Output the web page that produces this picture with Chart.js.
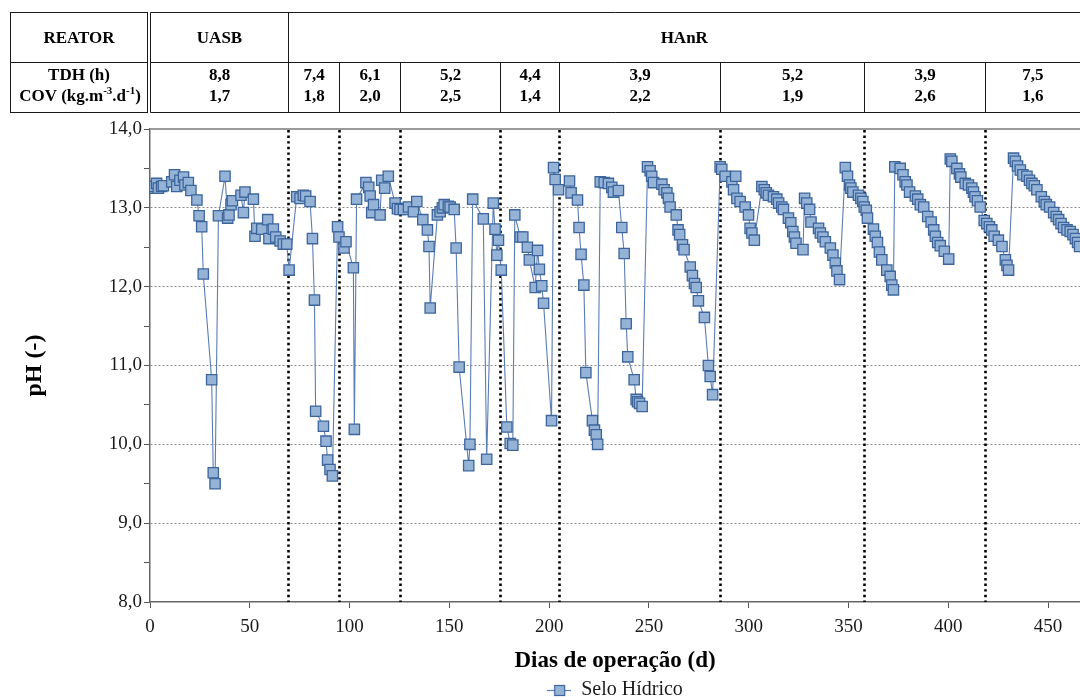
<!DOCTYPE html>
<html>
<head>
<meta charset="utf-8">
<script src="https://cdn.jsdelivr.net/npm/chart.js@4.4.1/dist/chart.umd.min.js"></script>
<style>
html,body{margin:0;padding:0;background:#fff;}
#wrap{width:1080px;height:700px;position:relative;}
</style>
</head>
<body>
<div id="wrap"><canvas id="c" width="1080" height="700"></canvas></div>
<script>
// ---------------- DATA ----------------
const seriesName = 'Selo Hídrico';
const days = [
  0,1.7,3.3,4.2,5.8,6.7,10.9,12.3,13.4,15.0,16.8,17.5,19.2,20.5,23.5,24.6,25.9,26.7,30.9,31.7,32.6,34.3,37.6,38.9,39.6,40.6,41.3,45.6,46.8,47.6,51.8,52.6,53.5,56.0,59.0,59.6,61.8,63.0,65.2,66.8,68.5,
  69.7,73.5,75.2,76.8,78.0,80.2,81.4,82.4,83.0,86.9,88.2,89.0,90.2,91.4,
  94.0,94.7,97.2,98.2,101.9,102.4,103.5,108.2,109.6,110.3,111.1,112.0,115.3,116.1,117.6,119.4,122.8,124.0,
  125.3,127.0,129.5,132.0,133.7,136.7,139.0,139.8,140.4,144.0,145.4,146.5,147.4,149.5,150.4,152.4,153.4,154.9,159.7,160.3,161.7,167.0,168.7,172.0,172.9,173.8,174.6,
  176.0,178.8,180.5,181.8,182.8,185.5,186.8,189.1,190.1,193.0,194.2,195.1,196.3,197.2,201.2,202.2,203.0,204.7,
  210.2,211.0,214.2,215.0,216.0,217.4,218.4,221.7,222.7,223.6,224.3,225.6,227.6,229.7,231.4,232.2,234.7,236.4,237.6,238.6,239.4,242.6,243.6,244.3,245.3,246.6,249.3,250.6,251.4,252.3,256.5,257.6,259.0,259.8,260.6,263.7,264.6,265.4,266.8,267.6,270.7,271.8,272.8,273.7,274.8,277.8,279.8,280.7,281.9,
  285.7,286.5,288.2,291.6,292.4,293.5,294.1,295.7,298.2,299.9,300.7,301.6,302.8,306.6,307.8,308.8,309.9,312.4,314.1,315.0,316.6,317.4,319.9,321.1,322.1,322.9,323.7,327.2,328.0,329.1,330.5,331.2,335.0,335.9,337.2,338.4,340.9,342.2,343.4,344.2,345.5,348.4,349.5,350.5,351.2,352.2,355.0,356.2,357.2,
  357.9,358.9,359.5,362.5,363.4,364.5,365.5,366.7,369.2,370.9,371.7,372.5,373.2,375.9,377.3,378.4,379.3,380.6,383.5,384.7,386.0,387.7,389.7,391.4,392.7,393.5,394.7,396.0,398.0,400.2,401.0,401.8,404.3,405.6,406.3,408.5,410.1,411.8,412.6,413.4,414.6,416.0,
  418.0,419.3,420.6,421.8,423.0,425.1,426.9,428.6,429.4,430.2,432.7,433.6,434.7,436.1,437.4,439.4,440.7,441.9,443.1,444.4,446.6,448.1,449.1,450.8,452.8,454.1,455.3,456.5,457.8,459.5,461.1,462.5,463.7,464.8,465.8
];
const ph = [
  13.25,13.27,13.31,13.25,13.27,13.28,13.33,13.42,13.27,13.35,13.39,13.29,13.32,13.22,13.10,12.90,12.76,12.16,10.82,9.64,9.50,12.90,13.40,12.87,12.91,13.04,13.09,13.16,12.94,13.20,13.11,12.64,12.74,12.73,12.85,12.61,12.73,12.63,12.58,12.54,12.54,
  12.21,13.14,13.12,13.16,13.15,13.08,12.61,11.83,10.42,10.23,10.04,9.80,9.68,9.60,
  12.76,12.63,12.49,12.57,12.24,10.19,13.11,13.32,13.26,13.15,12.94,13.04,12.91,13.35,13.25,13.40,13.06,12.99,
  12.98,12.98,13.01,12.95,13.08,12.85,12.72,12.51,11.73,12.91,12.95,13.00,13.04,13.02,13.01,12.98,12.49,10.98,9.73,10.00,13.11,12.86,9.81,13.06,12.73,12.40,12.59,
  12.21,10.22,10.01,9.99,12.91,12.63,12.63,12.50,12.34,11.99,12.46,12.22,12.01,11.79,10.30,13.51,13.36,13.23,
  13.34,13.19,13.10,12.75,12.41,12.02,10.91,10.30,10.18,10.12,10.00,13.33,13.32,13.31,13.26,13.20,13.22,12.75,12.42,11.53,11.11,10.82,10.57,10.54,10.52,10.48,13.52,13.47,13.40,13.32,13.30,13.23,13.19,13.12,13.01,12.91,12.72,12.66,12.53,12.47,12.25,12.14,12.04,11.99,11.82,11.61,11.00,10.86,10.63,
  13.52,13.49,13.40,13.33,13.23,13.40,13.12,13.08,13.01,12.91,12.74,12.68,12.59,13.27,13.23,13.19,13.16,13.14,13.11,13.06,13.01,12.98,12.87,12.81,12.70,12.63,12.55,12.47,13.12,13.06,12.98,12.82,12.74,12.68,12.63,12.57,12.49,12.40,12.30,12.20,12.09,13.51,13.40,13.29,13.25,13.20,13.16,13.12,13.08,
  13.01,12.97,12.87,12.73,12.64,12.56,12.44,12.34,12.21,12.13,12.02,11.96,13.52,13.50,13.42,13.33,13.29,13.20,13.15,13.11,13.04,13.01,12.89,12.82,12.72,12.64,12.56,12.52,12.45,12.35,13.62,13.59,13.50,13.43,13.39,13.31,13.29,13.25,13.20,13.14,13.09,13.01,
  12.84,12.80,12.76,12.72,12.64,12.59,12.51,12.34,12.27,12.21,13.63,13.59,13.53,13.48,13.42,13.40,13.35,13.31,13.28,13.23,13.14,13.08,13.04,13.01,12.94,12.89,12.85,12.80,12.75,12.72,12.70,12.66,12.61,12.56,12.51
];
// operational phase boundaries (days)
const phaseStarts = [69, 94.5, 125.5, 175.5, 205, 285.5, 358, 418.5];
const reactorNames = ['UASB', 'HAnR'];
const tdhLabels = ['8,8','7,4','6,1','5,2','4,4','3,9','5,2','3,9','7,5'];
const covLabels = ['1,7','1,8','2,0','2,5','1,4','2,2','1,9','2,6','1,6'];
const xTickValues = [0,50,100,150,200,250,300,350,400,450];
const yTickValues = [8,9,10,11,12,13,14];
const xMin = 0, xMax = 466;

if (days.length !== ph.length) console.error('length mismatch', days.length, ph.length);

// ---------------- STYLE ----------------
const SERIF = '"Liberation Serif", "Times New Roman", serif';
const LINE_COLOR = '#5b7db3';
const FILL = '#95b3d7';
const EDGE = '#3d659c';

const yTicksAll = [];
yTickValues.forEach((v, i) => { yTicksAll.push(v); if (i < yTickValues.length - 1) yTicksAll.push((v + yTickValues[i + 1]) / 2); });
const fmt = v => v.toFixed(1).replace('.', ',');

// legend symbol: line with square marker
const legendSym = document.createElement('canvas');
legendSym.width = 24; legendSym.height = 14;
(function(){
  const g = legendSym.getContext('2d');
  g.strokeStyle = LINE_COLOR; g.lineWidth = 1.2;
  g.beginPath(); g.moveTo(0, 7.5); g.lineTo(24, 7.5); g.stroke();
  g.fillStyle = FILL; g.fillRect(7.5, 2.5, 10, 10);
  g.strokeStyle = EDGE; g.lineWidth = 1.2; g.strokeRect(7.5, 2.5, 10, 10);
})();

function line(ctx, x1, y1, x2, y2) { ctx.beginPath(); ctx.moveTo(x1, y1); ctx.lineTo(x2, y2); ctx.stroke(); }

function drawRich(ctx, parts, cx, cy, size) {
  const base = 'bold ' + size + 'px ' + SERIF, small = 'bold ' + Math.round(size * 0.62) + 'px ' + SERIF;
  let w = 0;
  parts.forEach(p => { ctx.font = p.sup ? small : base; p.w = ctx.measureText(p.t).width; w += p.w; });
  let xx = cx - w / 2;
  ctx.textAlign = 'left';
  parts.forEach(p => { ctx.font = p.sup ? small : base; ctx.fillText(p.t, xx, p.sup ? cy - 6 : cy); xx += p.w; });
  ctx.textAlign = 'center';
}

const overlay = {
  id: 'overlay',
  beforeDatasetsDraw(chart) {
    const {ctx, chartArea: a, scales: {x}} = chart;
    ctx.save();
    ctx.strokeStyle = '#000'; ctx.lineWidth = 2.6; ctx.setLineDash([2.4, 3.2]);
    phaseStarts.forEach(d => {
      const px = Math.round(x.getPixelForValue(d)) + 0.5;
      line(ctx, px, a.top + 1, px, a.bottom);
    });
    ctx.setLineDash([]);
    ctx.strokeStyle = '#9a9a9a'; ctx.lineWidth = 2;
    line(ctx, a.left, a.top, a.right, a.top);
    ctx.restore();
  },
  afterDraw(chart) {
    const {ctx, chartArea: a, scales: {x}} = chart;
    ctx.save();
    const T = 12.5, M = 62.5, B = 112.5, L0 = 10.5, R0 = 147.5, L1 = Math.round(a.left) + 0.5, R1 = a.right;
    ctx.strokeStyle = '#1a1a1a'; ctx.lineWidth = 1;
    ctx.strokeRect(L0, T, R0 - L0, B - T);
    line(ctx, L0, M, R0, M);
    line(ctx, L1, T, R1, T); line(ctx, L1, M, R1, M); line(ctx, L1, B, R1, B);
    line(ctx, L1, T, L1, B);
    const bx = phaseStarts.map(d => Math.round(x.getPixelForValue(d)) + 0.5);
    line(ctx, bx[0], T, bx[0], B);
    bx.slice(1).forEach(p => line(ctx, p, M, p, B));
    ctx.fillStyle = '#000'; ctx.textAlign = 'center'; ctx.textBaseline = 'middle';
    ctx.font = 'bold 17px ' + SERIF;
    ctx.fillText('REATOR', (L0 + R0) / 2, 39);
    ctx.fillText(reactorNames[0], (L1 + bx[0]) / 2, 39);
    ctx.fillText(reactorNames[1], (bx[0] + R1) / 2, 39);
    ctx.fillText('TDH (h)', (L0 + R0) / 2, 76);
    drawRich(ctx, [{t: 'COV (kg.m'}, {t: '-3', sup: true}, {t: '.d'}, {t: '-1', sup: true}, {t: ')'}], (L0 + R0) / 2 + 1, 97, 17);
    ctx.font = 'bold 17px ' + SERIF;
    const edges = [L1, ...bx, R1];
    for (let i = 0; i < tdhLabels.length; i++) {
      const cx = (edges[i] + edges[i + 1]) / 2;
      ctx.fillText(tdhLabels[i], cx, 76);
      ctx.fillText(covLabels[i], cx, 97);
    }
    ctx.restore();
  }
};

Chart.defaults.font.family = SERIF;
Chart.defaults.color = '#1a1a1a';

new Chart(document.getElementById('c'), {
  type: 'line',
  data: {
    datasets: [{
      label: seriesName,
      data: days.map((d, i) => ({x: d, y: ph[i]})),
      borderColor: LINE_COLOR,
      borderWidth: 1.1,
      backgroundColor: FILL,
      pointStyle: 'rect',
      pointRadius: 7.3,
      pointBackgroundColor: FILL,
      pointBorderColor: EDGE,
      pointBorderWidth: 1.3,
      tension: 0,
      fill: false
    }]
  },
  options: {
    responsive: false,
    animation: false,
    events: [],
    layout: {autoPadding: false, padding: {top: 129, left: 0, right: 0, bottom: -10}},
    plugins: {
      title: {display: false},
      tooltip: {enabled: false},
      legend: {
        display: true,
        position: 'bottom',
        fullSize: false,
        labels: {
          font: {family: SERIF, size: 20},
          color: '#1a1a1a',
          padding: 0,
          usePointStyle: true,
          pointStyleWidth: 24,
          generateLabels: () => [{text: seriesName, pointStyle: legendSym, fillStyle: FILL, strokeStyle: EDGE, lineWidth: 0, hidden: false, datasetIndex: 0, fontColor: '#1a1a1a'}]
        }
      }
    },
    scales: {
      x: {
        type: 'linear',
        min: xMin, max: xMax,
        afterBuildTicks: s => { s.ticks = xTickValues.map(v => ({value: v})); },
        afterFit: s => { s.height = 78; },
        ticks: {font: {family: SERIF, size: 19}, color: '#1a1a1a', padding: 8, maxRotation: 0, autoSkip: false, callback: v => String(v)},
        grid: {drawOnChartArea: false, drawTicks: true, tickLength: 6, tickColor: '#555', color: '#555'},
        border: {color: '#666', width: 1.5},
        title: {display: true, text: 'Dias de operação (d)', font: {family: SERIF, size: 23, weight: 'bold'}, color: '#000', padding: {top: 0, bottom: 5}}
      },
      y: {
        type: 'linear',
        min: 8, max: 14,
        afterBuildTicks: s => { s.ticks = yTicksAll.map(v => ({value: v})); },
        afterFit: s => { s.width = 150; },
        ticks: {font: {family: SERIF, size: 19}, color: '#1a1a1a', padding: 2, autoSkip: false,
                callback: v => (yTickValues.includes(v) ? fmt(v) : '')},
        grid: {
          drawTicks: true, tickLength: 6, tickColor: '#555', lineWidth: 1,
          color: c => (c.tick && yTickValues.includes(c.tick.value) && c.tick.value > 8 && c.tick.value < 14) ? '#8a8a8a' : 'rgba(0,0,0,0)'
        },
        border: {color: '#666', width: 1.5, dash: [2, 2]},
        title: {display: true, text: 'pH (-)', font: {family: SERIF, size: 24, weight: 'bold'}, color: '#000', padding: {top: 20, bottom: 0}}
      }
    }
  },
  plugins: [overlay]
});
</script>
</body>
</html>
